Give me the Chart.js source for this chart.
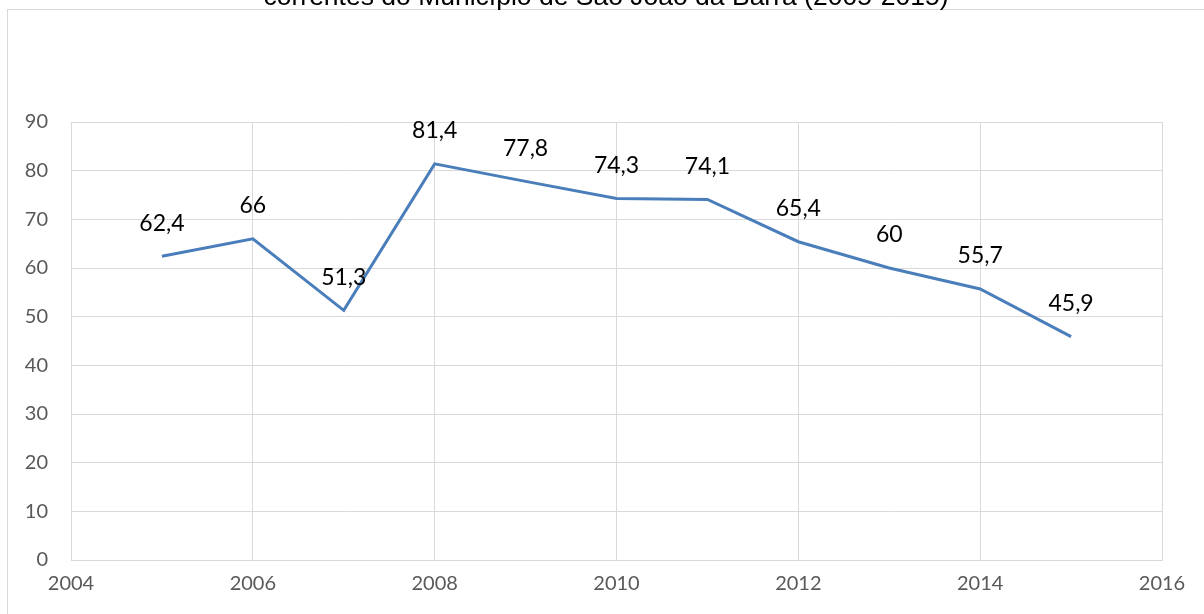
<!DOCTYPE html>
<html>
<head>
<meta charset="utf-8">
<script src="https://cdn.jsdelivr.net/npm/chart.js@4/dist/chart.umd.min.js"></script>
<style>
  html, body { margin: 0; padding: 0; background: #fff; }
  #wrap { width: 1204px; height: 614px; position: relative; }
</style>
</head>
<body>
<div id="wrap"><canvas id="chart"></canvas></div>
<script>
var titleText = "correntes do Município de São João da Barra (2005-2015)";
var years = [2005, 2006, 2007, 2008, 2009, 2010, 2011, 2012, 2013, 2014, 2015];
var values = [62.4, 66, 51.3, 81.4, 77.8, 74.3, 74.1, 65.4, 60, 55.7, 45.9];
var xMin = 2004, xMax = 2016, xStep = 2;
var yMin = 0, yMax = 90, yStep = 10;

var points = years.map(function(y, i) { return { x: y, y: values[i] }; });

// frame + cut-off title, drawn behind everything
var framePlugin = {
  id: "frame",
  beforeDraw: function(chart) {
    var ctx = chart.ctx;
    ctx.save();
    ctx.fillStyle = "#fff";
    ctx.fillRect(0, 0, chart.width, chart.height);
    ctx.strokeStyle = "#d9d9d9";
    ctx.lineWidth = 1;
    ctx.strokeRect(7.5, 9.5, chart.width, chart.height);
    ctx.fillStyle = "#000";
    ctx.font = "26.5px 'Liberation Sans', Arial, sans-serif";
    ctx.textAlign = "center";
    ctx.textBaseline = "alphabetic";
    ctx.fillText(titleText, 606, 5);
    ctx.restore();
  }
};

// value labels above points, comma decimal
var labelPlugin = {
  id: "valueLabels",
  afterDatasetsDraw: function(chart) {
    var ctx = chart.ctx;
    var meta = chart.getDatasetMeta(0);
    ctx.save();
    ctx.fillStyle = "#000";
    ctx.font = "23px Lato, 'Open Sans', sans-serif";
    ctx.textAlign = "center";
    ctx.textBaseline = "middle";
    meta.data.forEach(function(pt, i) {
      var txt = String(values[i]).replace(".", ",");
      ctx.fillText(txt, pt.x, pt.y - 33);
    });
    ctx.restore();
  }
};

new Chart(document.getElementById("chart"), {
  type: "line",
  data: {
    datasets: [{
      data: points,
      borderColor: "#4a7ebb",
      borderWidth: 3,
      pointRadius: 0,
      tension: 0,
      fill: false
    }]
  },
  options: {
    responsive: true,
    maintainAspectRatio: false,
    animation: false,
    layout: { padding: { top: 122, right: 42, bottom: 0, left: 0 } },
    plugins: {
      legend: { display: false },
      title: { display: false },
      tooltip: { enabled: false }
    },
    scales: {
      x: {
        type: "linear",
        min: xMin,
        max: xMax,
        afterFit: function(s) { s.height = 54; },
        ticks: {
          stepSize: xStep,
          padding: 12,
          color: "#595959",
          font: { family: "Lato, 'Open Sans', sans-serif", size: 20 },
          callback: function(v) { return String(v); }
        },
        grid: { color: "#d9d9d9", drawTicks: false },
        border: { color: "#d9d9d9" }
      },
      y: {
        min: yMin,
        max: yMax,
        afterFit: function(s) { s.width = 71; },
        ticks: {
          stepSize: yStep,
          padding: 23,
          color: "#595959",
          font: { family: "Lato, 'Open Sans', sans-serif", size: 20 }
        },
        grid: { color: "#d9d9d9", drawTicks: false },
        border: { color: "#d9d9d9" }
      }
    }
  },
  plugins: [framePlugin, labelPlugin]
});
</script>
</body>
</html>
